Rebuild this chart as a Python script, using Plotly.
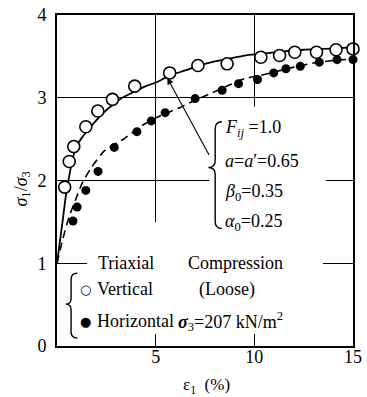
import plotly.graph_objects as go

# ---------------- data ----------------
vert_x = [0.39, 0.62, 0.85, 1.46, 2.07, 2.81, 3.94, 5.71, 7.14, 8.62, 10.33, 11.28, 12.05, 13.15, 14.14, 15.0]
vert_y = [1.92, 2.23, 2.41, 2.65, 2.84, 2.98, 3.14, 3.30, 3.39, 3.41, 3.49, 3.51, 3.55, 3.55, 3.58, 3.59]

horz_x = [0.81, 1.02, 1.46, 2.08, 2.90, 4.05, 4.78, 5.48, 7.00, 8.37, 9.20, 10.16, 10.98, 11.60, 12.33, 13.29, 14.19, 15.0]
horz_y = [1.51, 1.68, 1.88, 2.11, 2.40, 2.59, 2.72, 2.82, 2.99, 3.09, 3.17, 3.22, 3.30, 3.35, 3.38, 3.43, 3.46, 3.46]

solid_x = [0, 0.14, 0.28, 0.44, 0.61, 0.77, 1.0, 1.3, 1.6, 2.0, 2.5, 2.8, 3.3, 3.9, 4.5, 5.07, 5.72, 6.5, 7.2, 8.0, 8.7, 9.5, 10.3, 11.5, 12.5, 13.5, 14.3, 15.0]
solid_y = [1.0, 1.25, 1.50, 1.80, 2.04, 2.24, 2.42, 2.53, 2.62, 2.73, 2.85, 2.91, 3.00, 3.07, 3.14, 3.19, 3.27, 3.33, 3.39, 3.44, 3.47, 3.51, 3.53, 3.56, 3.58, 3.59, 3.60, 3.61]

dash_x = [0, 0.28, 0.61, 0.93, 1.26, 1.75, 2.41, 3.43, 4.42, 5.3, 6.22, 7.0, 7.87, 8.7, 9.5, 10.3, 11.0, 12.0, 13.0, 14.0, 15.0]
dash_y = [1.0, 1.28, 1.56, 1.76, 1.96, 2.16, 2.36, 2.51, 2.68, 2.79, 2.88, 2.97, 3.06, 3.15, 3.23, 3.27, 3.31, 3.37, 3.42, 3.45, 3.47]

x_ticks = [5, 10, 15]
y_ticks = [0, 1, 2, 3, 4]
X_RANGE = [0, 15]
Y_RANGE = [0, 4]

# ---------------- geometry helpers (pixel -> paper / axis units) ----------------
W, H = 367, 397
ML, MR, MT, MB = 57, 5, 14, 51
PW, PH = W - ML - MR, H - MT - MB


def px(x):
    return (x - ML) / PW


def py(y):
    return (H - MB - y) / PH


def dx(x):
    return X_RANGE[0] + px(x) * (X_RANGE[1] - X_RANGE[0])


def dy(y):
    return Y_RANGE[0] + py(y) * (Y_RANGE[1] - Y_RANGE[0])


SERIF = "Liberation Serif"
BLACK = "black"

fig = go.Figure()

fig.add_trace(go.Scatter(x=solid_x, y=solid_y, mode="lines",
                         line=dict(color=BLACK, width=1.8, shape="spline", smoothing=0.5),
                         showlegend=False, hoverinfo="skip"))
fig.add_trace(go.Scatter(x=dash_x, y=dash_y, mode="lines",
                         line=dict(color=BLACK, width=1.6, dash="8px,5px", shape="spline", smoothing=0.5),
                         showlegend=False, hoverinfo="skip"))
fig.add_trace(go.Scatter(x=vert_x, y=vert_y, mode="markers", cliponaxis=False,
                         marker=dict(symbol="circle", size=12, color="white",
                                     line=dict(color=BLACK, width=1.6)),
                         name="Vertical", showlegend=False))
fig.add_trace(go.Scatter(x=horz_x, y=horz_y, mode="markers", cliponaxis=False,
                         marker=dict(symbol="circle", size=9, color=BLACK,
                                     line=dict(color=BLACK, width=0)),
                         name="Horizontal", showlegend=False))

shapes = []
# white covers that interrupt the grid behind the text blocks (between grid and traces)
for (x0, x1, y0, y1) in [(214, 334, 106, 242), (88, 331, 222, 334)]:
    shapes.append(dict(type="rect", xref="x", yref="y",
                       x0=dx(x0), x1=dx(x1), y0=dy(y1), y1=dy(y0),
                       fillcolor="white", line=dict(width=0), layer="between"))


def brace(xe, xs, xt, ytop, ytip, ybot, r):
    pts = [
        f"M {px(xe)},{py(ytop)}",
        f"Q {px(xs)},{py(ytop)} {px(xs)},{py(ytop + r)}",
        f"L {px(xs)},{py(ytip - r)}",
        f"Q {px(xs)},{py(ytip)} {px(xt)},{py(ytip)}",
        f"Q {px(xs)},{py(ytip)} {px(xs)},{py(ytip + r)}",
        f"L {px(xs)},{py(ybot - r)}",
        f"Q {px(xs)},{py(ybot)} {px(xe)},{py(ybot)}",
    ]
    return dict(type="path", xref="paper", yref="paper", path=" ".join(pts),
                line=dict(color=BLACK, width=1.4), layer="above")


shapes.append(brace(227, 220, 213, 121, 167, 228, 7))
shapes.append(brace(78, 71.5, 66, 273, 304, 338, 6))

annotations = []


def label(text, x, y, size=18, anchor="left", angle=0, fam=None):
    annotations.append(dict(text=text, xref="paper", yref="paper", x=px(x), y=py(y),
                            xanchor=anchor, yanchor="middle", showarrow=False,
                            textangle=angle,
                            font=dict(family=fam or SERIF, size=size, color=BLACK)))


label("<i>F</i><sub><i>ij</i></sub> =1.0", 228, 128)
label("<i>a</i>=<i>a</i>′=0.65", 228, 160)
label("<i>β</i><sub>0</sub>=0.35", 228, 192)
label("<i>α</i><sub>0</sub>=0.25", 228, 222)

label("Triaxial", 97, 263)
label("Compression", 190, 263)
label("○", 86, 289, size=13, anchor="center", fam="DejaVu Sans")
label("Vertical", 96, 289)
label("(Loose)", 201, 289)
label("●", 86, 321, size=13, anchor="center", fam="DejaVu Sans")
label("Horizontal", 96, 321)
label("<b><i>σ</i></b><sub>3</sub>=207 kN/m<sup>2</sup>", 180, 321)

label("<i>σ</i><sub>1</sub>/<i>σ</i><sub>3</sub>", 21, 189, size=18, anchor="center", angle=-90)
label("ε<sub>1</sub>  (%)", 211, 386, size=17, anchor="center")

# arrow from brace tip to solid curve
annotations.append(dict(x=5.59, y=3.24, xref="x", yref="y", text="", showarrow=True,
                        ax=42.6, ay=78.7, axref="pixel", ayref="pixel",
                        arrowhead=2, arrowsize=1.2, arrowwidth=1.1, arrowcolor=BLACK,
                        standoff=0, startstandoff=0))

fig.update_layout(
    width=W, height=H,
    margin=dict(l=ML, r=MR, t=MT, b=MB, pad=0),
    paper_bgcolor="white", plot_bgcolor="white",
    shapes=shapes, annotations=annotations,
    showlegend=False,
)
fig.update_xaxes(range=X_RANGE, tickvals=x_ticks, ticktext=[str(v) for v in x_ticks],
                 showgrid=True, gridcolor=BLACK, gridwidth=1, zeroline=False,
                 showline=True, linecolor=BLACK, linewidth=1.6, mirror=True,
                 ticks="", ticklabelstandoff=-6, ticklabeloverflow="allow",
                 tickfont=dict(family=SERIF, size=18, color=BLACK))
fig.update_yaxes(range=Y_RANGE, tickvals=y_ticks, ticktext=[str(v) for v in y_ticks],
                 showgrid=True, gridcolor=BLACK, gridwidth=1, zeroline=False,
                 showline=True, linecolor=BLACK, linewidth=1.6, mirror=True,
                 ticks="", ticklabelstandoff=5,
                 tickfont=dict(family=SERIF, size=18, color=BLACK))

fig.write_html("out.html")
